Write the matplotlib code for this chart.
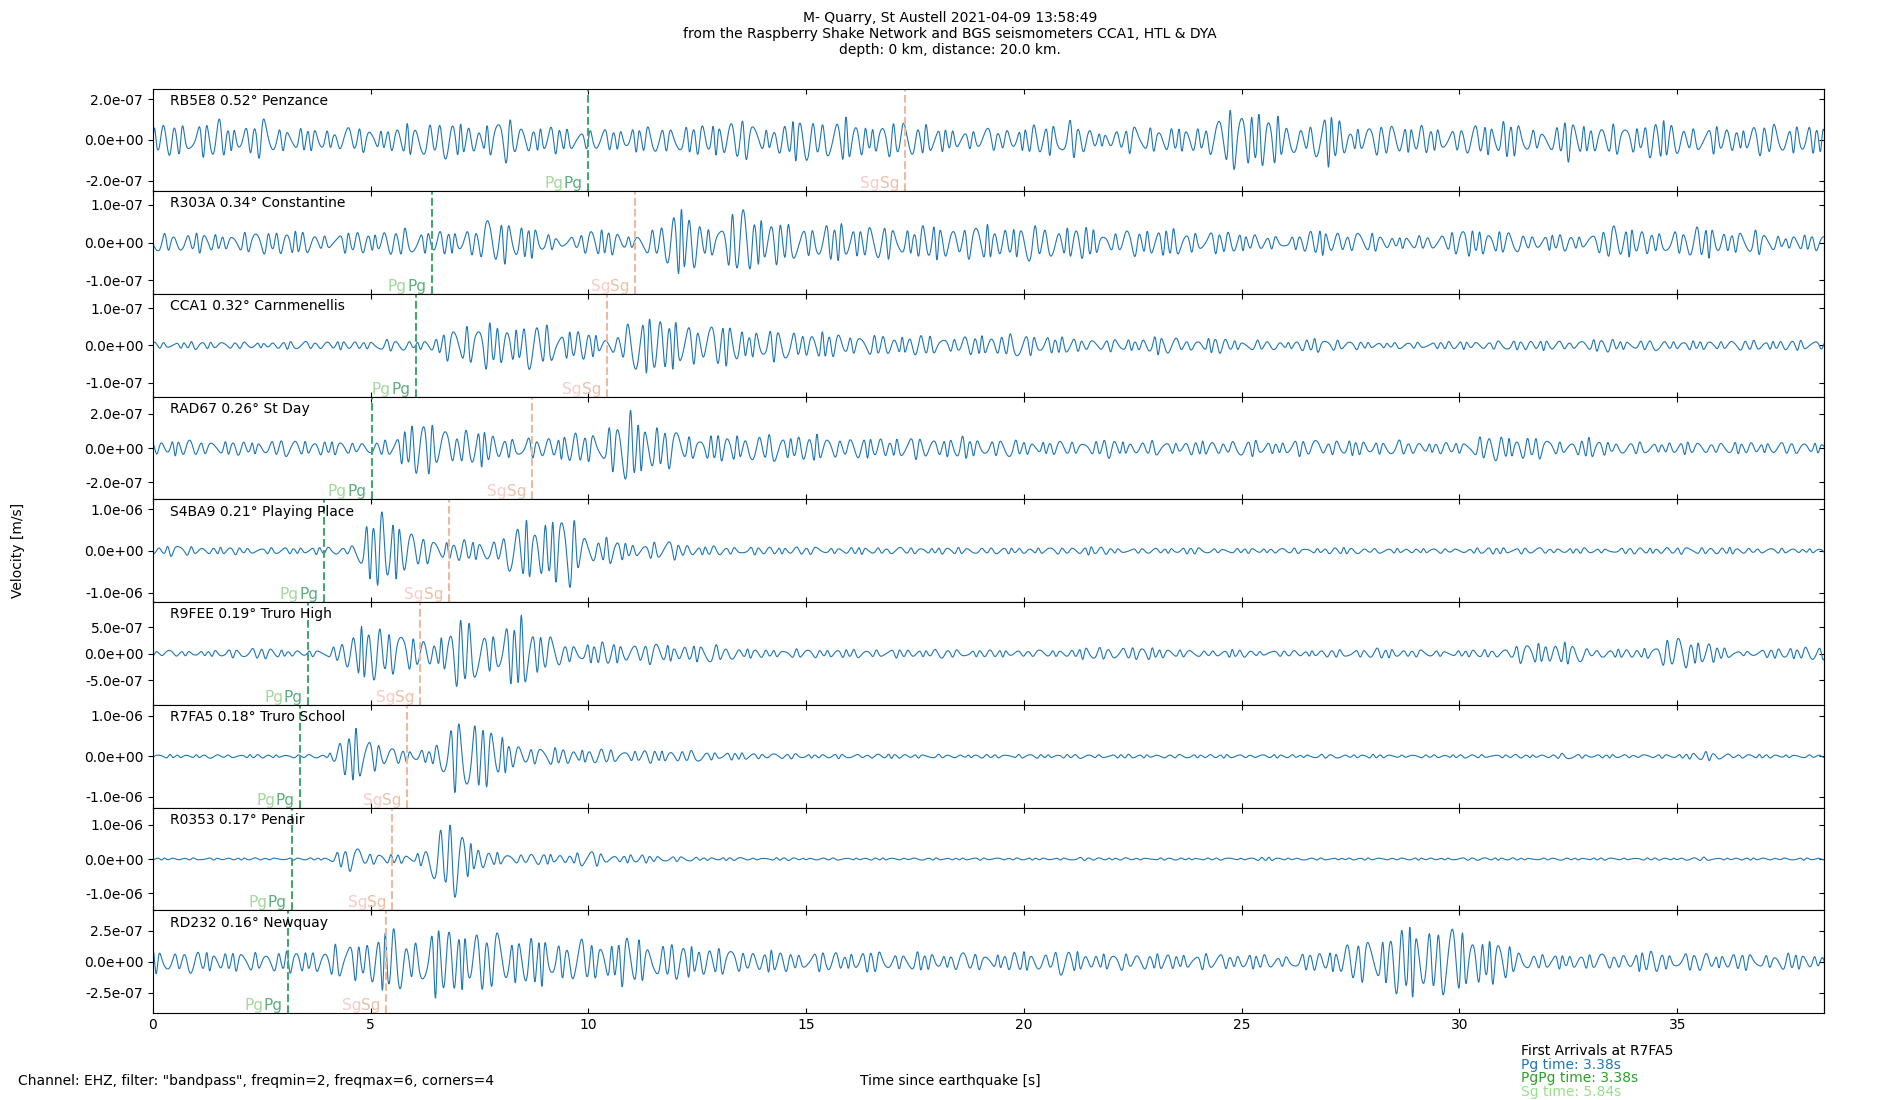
import numpy as np
import matplotlib
matplotlib.use("Agg")
import matplotlib.pyplot as plt
from matplotlib.ticker import FormatStrFormatter

# ---------------- data ----------------
stations = ["RB5E8", "R303A", "CCA1", "RAD67", "S4BA9", "R9FEE", "R7FA5", "R0353", "RD232"]
distances_deg = [0.52, 0.34, 0.32, 0.26, 0.21, 0.19, 0.18, 0.17, 0.16]
places = ["Penzance", "Constantine", "Carnmenellis", "St Day", "Playing Place",
          "Truro High", "Truro School", "Penair", "Newquay"]

pg_times = [10.0, 6.4, 6.03, 5.02, 3.92, 3.56, 3.38, 3.19, 3.1]
sg_times = [17.27, 11.08, 10.43, 8.7, 6.8, 6.14, 5.84, 5.5, 5.36]

# envelope of each trace (peak velocity, units of 1e-7 m/s) read every 0.5 s, 0 .. 38.5 s
env_times = np.arange(0, 38.51, 0.5)
env_RB5E8 = [0.6, 0.8, 0.8, 0.9, 0.6, 0.9, 0.6, 0.5, 0.5, 0.6, 0.5, 0.6, 0.7, 1.0, 0.8, 0.6, 1.1, 0.7, 0.6, 0.6,
             0.5, 0.5, 0.6, 0.6, 0.8, 0.6, 0.9, 1.0, 0.6, 0.7, 1.2, 0.9, 1.0, 0.7, 0.8, 1.0, 0.5, 0.5, 0.5, 0.5,
             0.6, 0.7, 1.1, 0.4, 0.4, 0.6, 0.7, 0.5, 0.6, 1.1, 1.6, 1.5, 0.7, 0.7, 1.3, 0.6, 0.6, 0.9, 0.6, 0.6,
             0.6, 0.7, 1.0, 0.6, 0.5, 0.9, 0.7, 0.7, 0.7, 1.0, 0.7, 0.6, 0.6, 0.6, 0.7, 0.8, 0.6, 0.6]
env_R303A = [0.25, 0.25, 0.25, 0.2, 0.25, 0.3, 0.35, 0.25, 0.2, 0.25, 0.3, 0.3, 0.35, 0.3, 0.25, 0.5, 0.55, 0.55, 0.2, 0.12,
             0.3, 0.4, 0.12, 0.35, 1.0, 0.5, 0.45, 0.9, 0.7, 0.45, 0.5, 0.45, 0.45, 0.45, 0.4, 0.4, 0.45, 0.4, 0.45, 0.4,
             0.45, 0.45, 0.35, 0.45, 0.2, 0.35, 0.4, 0.3, 0.3, 0.25, 0.3, 0.15, 0.15, 0.3, 0.3, 0.25, 0.25, 0.15, 0.15, 0.2,
             0.35, 0.35, 0.3, 0.2, 0.2, 0.2, 0.2, 0.4, 0.45, 0.2, 0.4, 0.4, 0.3, 0.3, 0.3, 0.15, 0.2, 0.25]
env_CCA1 = [0.1, 0.08, 0.1, 0.1, 0.08, 0.07, 0.1, 0.12, 0.1, 0.1, 0.12, 0.15, 0.12, 0.15, 0.6, 0.55, 0.55, 0.55, 0.55, 0.4,
            0.35, 0.15, 0.6, 1.0, 0.55, 0.5, 0.6, 0.4, 0.4, 0.4, 0.35, 0.3, 0.3, 0.25, 0.25, 0.25, 0.25, 0.2, 0.25, 0.3,
            0.3, 0.25, 0.2, 0.15, 0.15, 0.15, 0.25, 0.2, 0.12, 0.22, 0.12, 0.12, 0.1, 0.15, 0.2, 0.1, 0.08, 0.08, 0.08, 0.1,
            0.1, 0.1, 0.12, 0.15, 0.12, 0.1, 0.15, 0.18, 0.1, 0.14, 0.12, 0.1, 0.14, 0.12, 0.13, 0.12, 0.14, 0.12]
env_RAD67 = [0.4, 0.45, 0.4, 0.45, 0.35, 0.4, 0.45, 0.5, 0.35, 0.4, 0.3, 0.45, 1.9, 1.2, 1.0, 1.0, 0.7, 0.5, 0.6, 0.8,
             0.8, 1.3, 2.0, 1.4, 0.9, 0.7, 0.7, 0.8, 0.7, 0.8, 0.75, 0.6, 0.6, 0.55, 0.6, 0.6, 0.55, 0.6, 0.5, 0.55,
             0.4, 0.35, 0.4, 0.4, 0.5, 0.35, 0.4, 0.35, 0.4, 0.35, 0.5, 0.35, 0.4, 0.45, 0.45, 0.4, 0.4, 0.4, 0.35, 0.3,
             0.3, 0.7, 0.65, 0.7, 0.5, 0.35, 0.55, 0.35, 0.35, 0.3, 0.35, 0.3, 0.35, 0.3, 0.35, 0.3, 0.35, 0.3]
env_S4BA9 = [0.8, 1.4, 0.9, 0.8, 0.8, 0.7, 0.8, 0.8, 0.8, 1.0, 7.0, 10.0, 3.5, 2.5, 2.5, 2.0, 3.5, 6.5, 7.5, 9.5,
             3.0, 3.0, 1.5, 2.0, 2.2, 1.0, 1.0, 0.9, 0.8, 1.0, 0.8, 0.8, 0.7, 0.8, 0.8, 0.7, 0.8, 0.7, 0.8, 0.7,
             0.7, 0.7, 0.8, 1.0, 0.7, 0.6, 0.6, 0.7, 0.7, 0.6, 0.5, 0.6, 0.6, 0.6, 0.7, 0.8, 0.6, 0.5, 0.6, 0.5,
             0.5, 0.7, 0.8, 0.7, 0.6, 0.6, 0.6, 0.5, 0.7, 0.8, 0.7, 1.0, 0.7, 0.7, 0.6, 0.6, 0.5, 0.5]
env_R9FEE = [0.5, 0.5, 0.5, 0.5, 1.0, 1.0, 0.7, 0.5, 0.6, 3.5, 5.0, 5.5, 2.5, 2.5, 6.0, 5.5, 3.5, 7.5, 3.5, 1.5,
             2.0, 2.0, 1.8, 1.8, 1.5, 1.5, 1.8, 0.8, 0.8, 0.7, 0.8, 0.8, 0.7, 0.8, 0.7, 0.7, 0.8, 0.7, 0.7, 0.6,
             0.6, 0.6, 0.7, 1.1, 1.2, 1.1, 1.2, 0.7, 0.6, 0.6, 0.7, 0.5, 0.5, 0.6, 0.6, 0.8, 0.9, 0.8, 0.7, 0.5,
             0.6, 0.7, 0.8, 1.8, 2.0, 2.1, 0.8, 0.8, 0.7, 1.5, 3.0, 2.8, 1.0, 0.5, 0.6, 1.2, 1.2, 1.2]
env_R7FA5 = [0.4, 0.4, 0.4, 0.4, 0.4, 0.4, 0.35, 0.4, 0.4, 6.2, 4.8, 2.0, 1.0, 3.0, 9.0, 10.5, 4.0, 2.5, 2.2, 2.0,
             1.5, 1.8, 1.3, 1.5, 1.5, 1.2, 1.0, 0.8, 0.7, 0.6, 0.5, 0.5, 0.5, 0.5, 0.5, 0.5, 0.4, 0.4, 0.4, 0.4,
             0.5, 0.4, 0.5, 0.4, 0.5, 0.4, 0.4, 0.4, 0.5, 0.4, 0.4, 0.4, 0.4, 0.4, 0.5, 0.4, 0.4, 0.4, 0.3, 0.4,
             0.4, 0.4, 0.4, 0.4, 0.4, 0.7, 0.4, 0.4, 0.4, 0.4, 0.4, 1.2, 0.7, 0.5, 0.4, 0.4, 0.3, 0.4]
env_R0353 = [0.3, 0.3, 0.3, 0.3, 0.3, 0.3, 0.3, 0.3, 0.4, 3.5, 2.0, 1.2, 1.0, 6.5, 12.5, 2.5, 1.5, 1.5, 1.5, 1.2,
             2.8, 1.0, 1.2, 1.0, 0.8, 0.5, 0.4, 0.4, 0.3, 0.4, 0.3, 0.3, 0.3, 0.3, 0.3, 0.3, 0.3, 0.3, 0.3, 0.3,
             0.3, 0.3, 0.3, 0.5, 0.3, 0.3, 0.3, 0.3, 0.3, 0.3, 0.3, 0.5, 0.3, 0.3, 0.3, 0.3, 0.3, 0.3, 0.3, 0.3,
             0.3, 0.5, 0.3, 0.3, 0.3, 0.3, 0.3, 0.3, 0.3, 0.3, 0.3, 0.5, 0.3, 0.3, 0.3, 0.3, 0.3, 0.3]
env_RD232 = [1.1, 0.8, 0.8, 0.8, 0.7, 0.8, 0.8, 0.9, 1.0, 1.5, 1.9, 2.6, 1.7, 2.5, 3.0, 1.9, 2.5, 1.8, 1.8, 1.5,
             1.6, 1.6, 2.0, 1.4, 1.4, 1.3, 1.1, 0.9, 0.8, 0.8, 0.7, 0.8, 0.7, 0.8, 0.7, 0.7, 0.6, 0.7, 0.6, 0.6,
             0.8, 0.7, 1.0, 0.6, 0.6, 0.7, 0.6, 0.6, 0.6, 0.6, 0.6, 0.5, 0.5, 0.6, 0.9, 1.3, 2.0, 2.5, 2.7, 2.9,
             2.6, 2.0, 1.5, 0.7, 0.5, 0.6, 0.6, 0.6, 0.6, 0.9, 0.6, 0.7, 0.6, 0.6, 0.6, 0.6, 0.6, 0.5]
envelopes = [env_RB5E8, env_R303A, env_CCA1, env_RAD67, env_S4BA9,
             env_R9FEE, env_R7FA5, env_R0353, env_RD232]
env_unit = 1e-7

first_arrival_station = "R7FA5"
pg_first, pgpg_first, sg_first = 3.38, 3.38, 5.84

# ---------------- axis config ----------------
ylim_max = [2.53e-7, 1.36e-7, 1.38e-7, 3.0e-7, 1.23e-6, 9.7e-7, 1.27e-6, 1.5e-6, 4.15e-7]
ytick_step = [2e-7, 1e-7, 1e-7, 2e-7, 1e-6, 5e-7, 1e-6, 1e-6, 2.5e-7]
t_end = 38.37
fs = 100.0

plt.rcParams["font.family"] = ["DejaVu Sans"]
plt.rcParams["font.size"] = 10

fig, axes = plt.subplots(9, 1, sharex=True, figsize=(19, 11), dpi=100,
                         gridspec_kw=dict(hspace=0))
fig.subplots_adjust(left=0.0805, right=0.96, top=0.9195, bottom=0.079)

t = np.arange(0, t_end + 1 / fs, 1 / fs)

PG_LINE = "#45a66f"
PG_LIGHT = "#a3d99b"
PG_DARK = "#5cae7d"
SG_LINE = "#ebbba0"
SG_LIGHT = "#f9cac6"
SG_DARK = "#ebc0a6"
LBL_FS = 11

for i, ax in enumerate(axes):
    env = np.interp(t, env_times, envelopes[i]) * env_unit
    # oscillation of the band-passed (2-6 Hz) signal
    phase = (2 * np.pi * 4.3 * t + 1.5 * np.sin(2 * np.pi * 0.55 * t + 1.7 * i)
             + 1.0 * np.sin(2 * np.pi * 1.7 * t + 2.3 * i) + 0.9 * i)
    wave = np.sin(phase) + 0.2 * np.sin(1.63 * phase + 0.7 * i)
    mod = 0.8 + 0.15 * np.sin(2 * np.pi * 0.9 * t + 1.1 * i) + 0.07 * np.sin(2 * np.pi * 2.1 * t + 0.4 * i)
    y = env * mod * wave
    ax.plot(t, y, color="#1f77b4", lw=0.8)

    m = ylim_max[i]
    ax.set_ylim(-m, m)
    s = ytick_step[i]
    ticks = [-s, 0.0, s]
    ax.set_yticks(ticks)
    ax.yaxis.set_major_formatter(FormatStrFormatter("%.1e"))
    ax.tick_params(axis="x", direction="in", top=True, bottom=True)
    sec = ax.secondary_yaxis("right")
    sec.set_yticks(ticks)
    sec.tick_params(direction="in", labelright=False)

    ax.axvline(pg_times[i], color=PG_LINE, ls="--", lw=1.5)
    ax.axvline(sg_times[i], color=SG_LINE, ls="--", lw=1.5)
    xt = ax.get_xaxis_transform()
    ax.annotate("Pg", xy=(pg_times[i], 0), xycoords=xt, xytext=(-17.8, 0), fontsize=LBL_FS,
                textcoords="offset points", ha="right", va="bottom", color=PG_LIGHT)
    ax.annotate("Pg", xy=(pg_times[i], 0), xycoords=xt, xytext=(-4, 0), fontsize=LBL_FS,
                textcoords="offset points", ha="right", va="bottom", color=PG_DARK)
    ax.annotate("Sg", xy=(sg_times[i], 0), xycoords=xt, xytext=(-18.2, 0), fontsize=LBL_FS,
                textcoords="offset points", ha="right", va="bottom", color=SG_LIGHT)
    ax.annotate("Sg", xy=(sg_times[i], 0), xycoords=xt, xytext=(-4, 0), fontsize=LBL_FS,
                textcoords="offset points", ha="right", va="bottom", color=SG_DARK)

    ax.text(0.01, 0.95, f"{stations[i]} {distances_deg[i]:.2f}\u00b0 {places[i]}",
            transform=ax.transAxes, ha="left", va="top")

axes[-1].set_xlim(0, t_end)
axes[-1].set_xticks([0, 5, 10, 15, 20, 25, 30, 35])

fig.suptitle("M- Quarry, St Austell 2021-04-09 13:58:49\n"
             "from the Raspberry Shake Network and BGS seismometers CCA1, HTL & DYA\n"
             "depth: 0 km, distance: 20.0 km.", fontsize=10, y=0.99, va="top")
fig.text(0.0095, 0.5, "Velocity [m/s]", rotation=90, ha="center", va="center")
fig.text(0.5, 0.0173, "Time since earthquake [s]", ha="center", va="center")
fig.text(0.0095, 0.0173, 'Channel: EHZ, filter: "bandpass", freqmin=2, freqmax=6, corners=4',
         ha="left", va="center")
fig.text(0.8005, 0.0445, f"First Arrivals at {first_arrival_station}", ha="left", va="center", color="black")
fig.text(0.8005, 0.0322, f"Pg time: {pg_first:.2f}s", ha="left", va="center", color="#1f77b4")
fig.text(0.8005, 0.0199, f"PgPg time: {pgpg_first:.2f}s", ha="left", va="center", color="#2ca02c")
fig.text(0.8005, 0.0076, f"Sg time: {sg_first:.2f}s", ha="left", va="center", color="#98df8a")

fig.savefig("out.png", dpi=100)
